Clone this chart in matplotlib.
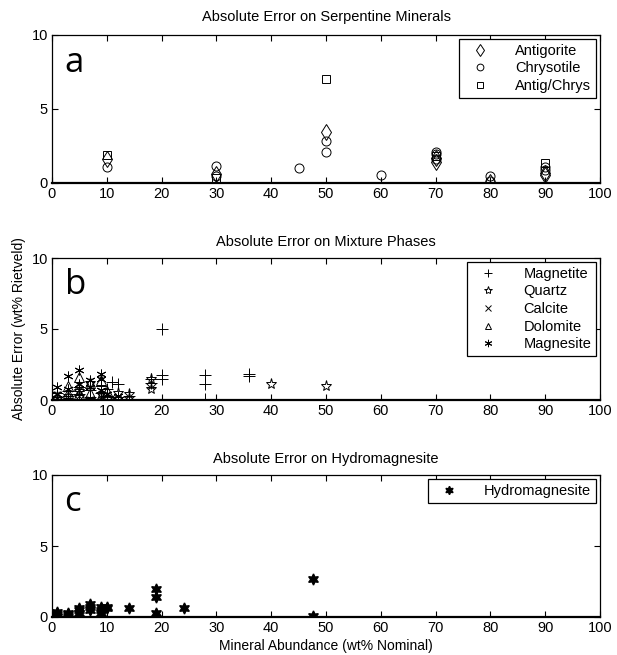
import matplotlib
matplotlib.use("Agg")
import matplotlib.pyplot as plt

plt.rcParams['font.family'] = ['Liberation Sans', 'DejaVu Sans']

# --- panel a: serpentine minerals ---
antig_x = [10, 30, 50, 70, 70, 80, 90, 90]
antig_y = [1.64, 0.6, 3.45, 1.45, 1.7, 0.05, 0.68, 0.52]
chrys_x = [10, 30, 30, 45, 50, 50, 60, 70, 70, 70, 80, 80, 90, 90]
chrys_y = [1.09, 1.18, 0.5, 1.0, 2.84, 2.07, 0.57, 2.09, 1.93, 1.6, 0.45, 0.15, 1.1, 0.86]
ac_x = [10, 30, 50, 70, 90]
ac_y = [1.86, 0.34, 7.05, 1.8, 1.36]

# --- panel b: mixture phases ---
magt_x = [1, 1, 3, 3, 5, 5, 7, 7, 9, 9, 10, 10, 11, 12, 12, 14, 18, 18,
          20, 20, 20, 28, 28, 28, 36, 36]
magt_y = [0.2, 0.5, 0.3, 0.6, 0.4, 0.9, 0.2, 0.7, 0.5, 1.0, 0.3, 0.8, 1.3, 1.1, 0.2,
          0.3, 1.46, 1.2, 5.0, 1.75, 1.46, 1.75, 1.16, 0.1, 1.86, 1.7]
qtz_x = [1, 3, 5, 5, 7, 9, 10, 12, 14, 14, 18, 18, 18, 40, 50]
qtz_y = [0.1, 0.3, 0.6, 0.2, 1.2, 0.4, 0.1, 0.5, 0.45, 0.15, 1.46, 1.04, 0.8, 1.16, 0.97]
calc_x = [1, 1, 3, 5, 5, 7, 9, 9, 10, 11]
calc_y = [0.1, 0.4, 0.2, 0.3, 0.7, 0.1, 0.2, 0.6, 0.4, 0.2]
dolo_x = [1, 3, 3, 5, 5, 5, 7, 7, 9, 9, 10]
dolo_y = [0.3, 0.5, 1.0, 1.6, 1.0, 0.4, 1.2, 0.5, 1.4, 0.3, 0.6]
mgs_x = [1, 1, 3, 3, 5, 5, 7, 7, 9, 9, 9, 10, 12]
mgs_y = [0.9, 0.4, 1.7, 0.8, 2.1, 1.1, 1.4, 0.9, 1.8, 1.5, 0.7, 0.4, 0.3]

# --- panel c: hydromagnesite ---
hmg_x = [1, 1, 1, 3, 3, 3, 5, 5, 5, 7, 7, 7, 9, 9, 9, 10, 10, 14, 19, 19, 19, 24, 47.6, 47.6]
hmg_y = [0.2, 0.35, 0.1, 0.1, 0.3, 0.2, 0.3, 0.5, 0.6, 0.5, 0.7, 0.9, 0.3, 0.5, 0.7, 0.6, 0.7,
         0.6, 2.0, 1.4, 0.3, 0.6, 2.7, 0.1]

fig = plt.figure(figsize=(6.17, 6.55), dpi=100)
W, H = 617, 655

def make_ax(top, bottom):
    ax = fig.add_axes([52 / W, 1 - bottom / H, 548 / W, (bottom - top) / H])
    ax.set_xlim(0, 100)
    ax.set_ylim(0, 10)
    ax.set_xticks(range(0, 101, 10))
    ax.set_yticks([0, 5, 10])
    ax.tick_params(direction='in', top=True, right=True, labelsize=10.5, length=4, pad=3)
    for s in ax.spines.values():
        s.set_linewidth(0.9)
    ax.spines['bottom'].set_linewidth(1.6)
    return ax

open_kw = dict(linestyle='none', markerfacecolor='none', markeredgecolor='black',
               color='black', markeredgewidth=0.7)
label_font = ['Open Sans', 'DejaVu Sans']

ax1 = make_ax(35, 183)
ax1.plot(antig_x, antig_y, marker='d', markersize=8, label='Antigorite', **open_kw)
ax1.plot(chrys_x, chrys_y, marker='o', markersize=6.5, label='Chrysotile', **open_kw)
ax1.plot(ac_x, ac_y, marker='s', markersize=5.5, label='Antig/Chrys', **open_kw)
ax1.set_title('Absolute Error on Serpentine Minerals', fontsize=10.5, pad=10)
ax1.text(2.3, 8.1, 'a', fontsize=25, family=label_font, va='center')

ax2 = make_ax(258, 400)
ax2.plot(magt_x, magt_y, marker='+', markersize=8, label='Magnetite', **open_kw)
ax2.plot(qtz_x, qtz_y, marker='*', markersize=8, label='Quartz', **open_kw)
ax2.plot(calc_x, calc_y, marker='x', markersize=5, label='Calcite', **open_kw)
ax2.plot(dolo_x, dolo_y, marker='^', markersize=6.5, label='Dolomite', **open_kw)
ax2.plot(mgs_x, mgs_y, marker=(6, 2, 0), markersize=7, label='Magnesite', **open_kw)
ax2.set_title('Absolute Error on Mixture Phases', fontsize=10.5, pad=9)
ax2.text(2.3, 8.1, 'b', fontsize=25, family=label_font, va='center')
ax2.set_ylabel('Absolute Error (wt% Rietveld)', fontsize=10, labelpad=4)

ax3 = make_ax(475, 617)
ax3.plot(hmg_x, hmg_y, linestyle='none', marker=(6, 1, 0), markersize=8, color='black',
         label='Hydromagnesite')
ax3.set_title('Absolute Error on Hydromagnesite', fontsize=10.5, pad=9)
ax3.text(2.3, 8.1, 'c', fontsize=25, family=label_font, va='center')
ax3.set_xlabel('Mineral Abundance (wt% Nominal)', fontsize=10, labelpad=3)

for ax in (ax1, ax2, ax3):
    leg = ax.legend(loc='upper right', fontsize=10.5, fancybox=False, framealpha=1,
                    edgecolor='black', borderaxespad=0.25, handletextpad=1.3,
                    labelspacing=0.25, borderpad=0.35, handlelength=2.2,
                    markerscale=0.75)
    leg.get_frame().set_linewidth(0.9)

fig.savefig('out.png', dpi=100)
